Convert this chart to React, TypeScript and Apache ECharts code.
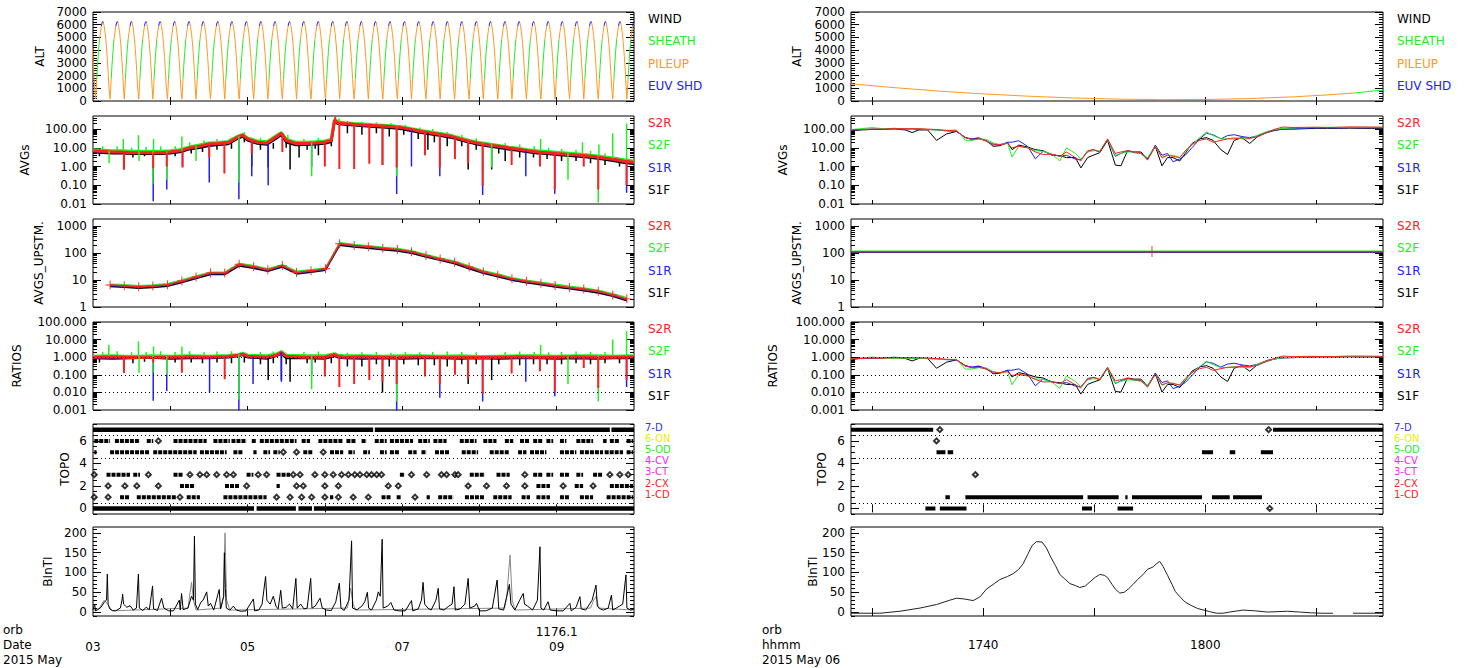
import React, { useEffect, useRef } from "react";
import * as echarts from "echarts";

const FONT = "'DejaVu Sans', sans-serif";

// ---------------- layout (pixels) ----------------
const ROW_TOP = [12, 116, 219, 322, 424, 527];
const ROW_H = [89, 88, 88, 88, 90, 89];
const PANEL_L = { left: 93, width: 541 };
const PANEL_R = { left: 851, width: 532 };

// ---------------- colours ----------------
const C_RED = "#ff2020";
const C_GREEN = "#22ee22";
const C_BLUE = "#2020ff";
const C_BLACK = "#000000";
const C_ORANGE = "#ff9922";

// ---------------- x axes ----------------
// left: hours since 2015-05-03 00:00 UT ; right: minutes of day 2015-05-06
const LEFT_X_MIN = 0;
const LEFT_X_MAX = 168;
const LEFT_TICKS = [24, 48, 72, 96, 120, 144];
const LEFT_LABEL_HOURS = [0, 48, 96, 144];
const LEFT_ORBIT_LABELS: [number, string][] = [[144, "1176.1"]];
const RIGHT_X_MIN = 1048.1;
const RIGHT_X_MAX = 1096;
const RIGHT_TICKS = [1050, 1060, 1070, 1080, 1090];
const RIGHT_LABEL_MIN = [1060, 1080];

// ---------------- ALT (left): periapsis times and one orbit profile ----------------
const ALT_PERI_HOURS = [-3.66, 0.8, 5.3, 9.7, 14.2, 18.6, 23.1, 27.6, 32.0, 36.5, 40.9, 45.4, 49.9, 54.3, 58.8, 63.2, 67.7, 72.2, 76.6, 81.1, 85.5, 90.0, 94.5, 98.9, 103.4, 107.8, 112.3, 116.8, 121.2, 125.7, 130.1, 134.6, 139.1, 143.5, 148.0, 152.4, 156.9, 161.4, 165.8];
const ALT_ORBIT_T = [0, 0.15, 0.35, 0.6, 0.9, 1.2, 1.5, 1.8, 2.0, 2.23, 2.45, 2.7, 3.0, 3.3, 3.6, 3.9, 4.15];
const ALT_ORBIT_KM = [150, 700, 1700, 2800, 3900, 4800, 5400, 5900, 6150, 6250, 6150, 5850, 5300, 4500, 3500, 2300, 1100];
const ALT_ORBIT_REGION = ["P", "P", "P", "S", "S", "S", "P", "P", "E", "E", "E", "P", "P", "P", "P", "P", "P"];

// ALT (right)
const ALT_R_PILEUP = [[1048.1, 1350], [1052, 1050], [1056, 780], [1060, 560], [1064, 380], [1068, 240], [1072, 150], [1076, 110], [1080, 120], [1084, 190], [1088, 330], [1091, 480], [1093.5, 640]];
const ALT_R_SHEATH = [[1093.5, 640], [1096, 860]];

// ---------------- AVGs (left) ----------------
const AVG_L_HOURS = [0, 3, 6, 9, 12, 15, 18, 21, 24, 27, 30, 33, 36, 39, 42, 45, 46.5, 48, 51, 54, 57, 58.5, 60, 63, 66, 69, 72, 74, 75, 76, 78, 81, 84, 87, 90, 93, 96, 99, 102, 105, 108, 111, 114, 117, 120, 123, 126, 129, 132, 135, 138, 141, 144, 147, 150, 153, 156, 159, 162, 165, 168];
const AVG_L_S2R = [7, 6.5, 6, 6, 5.5, 5.5, 5.5, 5.5, 6, 7, 10, 12, 16, 17, 19, 38, 48, 30, 20, 18, 40, 60, 25, 17, 17, 18, 20, 25, 300, 220, 200, 180, 165, 155, 145, 135, 120, 95, 75, 62, 52, 42, 30, 22, 17, 14, 12, 10, 8.5, 7, 6, 5.5, 5, 4.6, 4.2, 3.8, 3.3, 2.8, 2.4, 1.9, 1.7];
const AVG_L_S2F = [8, 7.5, 7, 7, 6.5, 6.5, 6.5, 6.5, 7, 8, 11, 14, 18, 19, 22, 42, 52, 34, 23, 21, 45, 65, 29, 20, 20, 21, 23, 29, 320, 250, 220, 200, 185, 170, 160, 150, 130, 105, 85, 70, 58, 47, 34, 25, 19, 16, 13.5, 11, 9.5, 8, 7, 6.3, 5.8, 5.3, 4.8, 4.3, 3.8, 3.2, 2.8, 2.3, 2.0];
const AVG_L_S1R = [6.5, 6, 5.8, 5.8, 5.3, 5.3, 5.3, 5.3, 5.8, 6.7, 9.5, 11.5, 15, 16, 18, 36, 45, 28, 19, 17, 37, 55, 23, 16, 16, 17, 19, 24, 280, 210, 190, 172, 158, 148, 138, 128, 115, 90, 72, 60, 50, 40, 29, 21, 16, 13, 11.5, 9.5, 8, 6.7, 5.8, 5.3, 4.8, 4.4, 4.0, 3.6, 3.1, 2.7, 2.3, 1.8, 1.6];
const AVG_L_S1F = [6, 5.5, 5.2, 5.2, 4.8, 4.8, 4.8, 4.8, 5.2, 6, 8.5, 10, 13, 14.5, 16, 32, 40, 25, 17, 15, 33, 50, 20, 14, 14.5, 15.5, 17, 21, 260, 190, 175, 160, 145, 135, 125, 115, 100, 80, 64, 53, 44, 36, 26, 19, 14.5, 12, 10, 8.5, 7.2, 6, 5.2, 4.8, 4.3, 3.9, 3.5, 3.2, 2.8, 2.4, 2.0, 1.6, 1.4];
// spikes: [hour, from, to]
const AVG_L_SPK_S2R = [[9.6, 6, 0.7], [18.7, 5.5, 0.8], [22.9, 5.5, 1.0], [27.8, 6.5, 0.9], [36.1, 16, 3], [40.8, 18, 0.42], [49.3, 25, 5], [58.8, 55, 6], [72.0, 20, 1.0], [75.2, 300, 450], [76.5, 230, 0.75], [81.1, 185, 0.75], [85.8, 165, 1.4], [89.9, 145, 1.2], [94.3, 135, 0.9], [103.1, 75, 4], [107.7, 55, 0.9], [112.4, 40, 2.5], [116.5, 25, 1.5], [121.0, 17, 0.093], [130.0, 10, 1.2], [138.8, 6.3, 1.0], [143.4, 5.5, 0.06], [152.4, 4.2, 1.0], [156.9, 3.4, 0.06], [165.7, 2.0, 0.1]];
const AVG_L_SPK_S2F = [[5.0, 7, 1.5], [9.4, 7, 30], [14.1, 6.5, 47], [14.3, 6.5, 2], [18.6, 6.5, 0.12], [18.8, 6.5, 30], [22.9, 6.5, 0.2], [27.6, 7, 40], [32.0, 13, 2], [45.3, 42, 0.14], [67.9, 20, 0.3], [76.4, 260, 380], [94.3, 150, 0.3], [121.0, 19, 0.6], [123.8, 16, 0.9], [139.0, 7, 30], [147.5, 5.3, 0.2], [152.0, 4.8, 20], [156.9, 3.8, 0.012], [157.1, 3.8, 15], [161.4, 2.8, 60], [165.7, 2.3, 200]];
const AVG_L_SPK_S1R = [[18.7, 5.3, 0.014], [22.9, 5.3, 0.06], [27.8, 6, 1.0], [36.1, 15, 0.14], [45.3, 36, 0.018], [49.3, 22, 0.3], [54.4, 17, 0.1], [67.9, 17, 1.0], [94.3, 128, 0.034], [98.9, 90, 1.0], [107.7, 52, 0.3], [121.0, 16, 0.03], [134.4, 7, 0.3], [143.4, 5, 0.035], [165.7, 1.8, 0.04]];
const AVG_L_SPK_S1F = [[9.6, 5, 0.7], [49.3, 18, 1.0], [54.4, 15, 0.9], [61.2, 15, 0.7], [64.0, 14, 3], [70.0, 15, 4], [89.9, 125, 1.2], [104.0, 62, 8], [116.5, 20, 0.7], [123.8, 12, 0.7], [128.0, 9, 2]];
// short fluctuations that make the band ragged
const AVG_L_WIG_S1F = [[2, 6, 3.5], [12.4, 5.5, 3], [16, 5.5, 3.5], [25.5, 6, 3.5], [30.5, 10, 5], [34, 12, 6], [38.5, 16, 8], [43, 19, 9], [47, 45, 20], [52, 20, 8], [56, 18, 9], [60, 25, 10], [66.5, 17, 8], [69, 18, 9], [74, 24, 12], [79, 200, 60], [83.5, 170, 50], [88, 150, 60], [92, 140, 40], [96.5, 120, 50], [101, 80, 30], [106, 58, 20], [110, 45, 12], [114.5, 30, 12], [119, 20, 8], [126, 12, 5], [132.5, 8.5, 3], [136.8, 7, 3], [141, 6, 2.5], [145.5, 5, 2], [150, 4.2, 2], [154.5, 3.6, 1.5], [159, 2.8, 1.2], [163.5, 2.2, 1]];
const AVG_L_WIG_S2F = [[3, 7, 12], [7.5, 7, 12], [12, 6.5, 10], [16.5, 6.5, 11], [21, 6.5, 12], [25.5, 7, 12], [30, 11, 20], [34.5, 14, 25], [38.5, 19, 30], [43, 22, 35], [47, 50, 70], [52, 23, 35], [56, 21, 35], [60.5, 29, 50], [65.5, 20, 30], [70, 22, 35], [79, 210, 280], [83.5, 190, 250], [88, 170, 230], [92.5, 155, 210], [97, 128, 170], [101.5, 90, 120], [105.5, 75, 100], [110, 50, 70], [114.5, 34, 50], [119, 22, 32], [128, 11, 18], [132.5, 9.5, 15], [137, 7.5, 12], [141.5, 6.3, 10], [145.5, 5.5, 9], [150, 4.8, 8], [154.5, 4.3, 7], [159, 3.2, 5]];

// ---------------- AVGS_UPSTM (left) ----------------
const UP_L_HOURS = [5.3, 9.7, 14.2, 18.6, 23.1, 27.6, 32.0, 36.5, 40.9, 45.4, 49.9, 54.3, 58.8, 63.2, 67.7, 72.2, 76.6, 81.1, 85.5, 90.0, 94.5, 98.9, 103.4, 107.8, 112.3, 116.8, 121.2, 125.7, 130.1, 134.6, 139.1, 143.5, 148.0, 152.4, 156.9, 161.4, 165.8];
const UP_L_S2R = [6.5, 6.1, 5.6, 6.0, 6.6, 9.2, 12.8, 18, 18, 38, 31, 24, 34, 19, 22, 26, 220, 190, 170, 150, 135, 110, 80, 60, 45, 30, 20, 15, 11, 9, 7.5, 6.3, 5.3, 4.6, 3.8, 2.8, 2.0];
const UP_L_S2F = [7.0, 6.6, 6.1, 6.5, 7.2, 10, 14, 19.5, 19.5, 41, 34, 26, 37, 21, 24, 28, 240, 205, 185, 162, 146, 120, 87, 65, 49, 33, 22, 16.5, 12, 9.8, 8.2, 6.9, 5.8, 5.0, 4.2, 3.1, 2.2];
const UP_L_S1R = [6.3, 5.9, 5.4, 5.8, 6.4, 8.9, 12.4, 17.5, 17.5, 37, 30, 23, 33, 18.4, 21, 25, 213, 184, 165, 145, 131, 107, 78, 58, 44, 29, 19.4, 14.6, 10.7, 8.7, 7.3, 6.1, 5.1, 4.5, 3.7, 2.7, 1.9];
const UP_L_S1F = [5.7, 5.4, 4.9, 5.3, 5.8, 8.1, 11.3, 15.8, 15.8, 33, 27, 21, 30, 16.7, 19.4, 23, 194, 167, 150, 132, 119, 97, 70, 53, 40, 26, 17.6, 13.2, 9.7, 7.9, 6.6, 5.5, 4.7, 4.0, 3.3, 2.5, 1.7];

// ---------------- RATIOS (left) ----------------
const RAT_L_HOURS = [0, 6, 12, 18, 24, 30, 36, 42, 45, 46.5, 48, 54, 57, 58.5, 60, 66, 72, 75, 76, 78, 84, 90, 96, 102, 108, 114, 120, 126, 132, 138, 144, 150, 156, 162, 168];
const RAT_L_S2R = [1.0, 1.05, 0.95, 1.0, 1.0, 1.05, 1.0, 1.1, 1.3, 1.5, 1.15, 1.0, 1.3, 1.8, 1.15, 1.0, 1.0, 1.4, 1.15, 1.0, 1.05, 1.0, 1.0, 1.05, 1.0, 1.0, 0.95, 1.0, 1.05, 1.0, 1.0, 1.05, 1.0, 1.0, 1.05];
const RAT_L_S2F = [1.15, 1.2, 1.1, 1.2, 1.15, 1.2, 1.15, 1.25, 1.4, 1.7, 1.3, 1.2, 1.5, 2.1, 1.3, 1.2, 1.2, 1.6, 1.3, 1.2, 1.2, 1.15, 1.2, 1.2, 1.15, 1.2, 1.1, 1.15, 1.2, 1.2, 1.15, 1.2, 1.2, 1.15, 1.2];
const RAT_L_S1R = [0.95, 1.0, 0.95, 0.95, 1.0, 1.0, 0.95, 1.05, 1.2, 1.45, 1.1, 0.95, 1.25, 1.7, 1.1, 0.95, 1.0, 1.35, 1.1, 0.95, 1.0, 0.95, 1.0, 1.0, 0.95, 1.0, 0.9, 0.95, 1.0, 0.95, 1.0, 1.0, 0.95, 1.0, 1.0];
const RAT_L_S1F = [0.9, 0.85, 0.9, 0.95, 0.85, 0.9, 0.9, 1.0, 1.15, 1.35, 1.0, 0.85, 1.2, 1.6, 0.9, 0.9, 0.85, 1.2, 1.0, 0.9, 0.85, 0.9, 0.85, 0.9, 0.9, 0.85, 0.9, 0.85, 0.9, 0.9, 0.85, 0.9, 0.85, 0.9, 0.9];
const RAT_L_SPK_S2R = [[9.6, 1.0, 0.13], [18.7, 1.0, 0.5], [27.6, 1.0, 0.13], [40.9, 1.1, 0.056], [72.0, 1.0, 0.08], [76.5, 1.3, 0.02], [81.1, 1.0, 0.03], [85.8, 1.0, 0.05], [89.9, 1.0, 0.04], [94.3, 1.0, 0.03], [103.1, 1.0, 0.08], [107.7, 1.0, 0.03], [112.4, 1.0, 0.1], [116.5, 1.0, 0.06], [121.0, 1.0, 0.008], [130.0, 1.0, 0.12], [138.8, 1.0, 0.16], [143.4, 1.0, 0.011], [152.4, 1.0, 0.24], [156.9, 1.0, 0.018], [165.7, 1.0, 0.05]];
const RAT_L_SPK_S2F = [[4.9, 1.2, 5], [14.1, 1.2, 8], [14.3, 1.2, 0.13], [18.6, 1.2, 0.13], [18.8, 1.2, 4], [22.9, 1.2, 0.1], [27.6, 1.2, 4], [45.3, 1.6, 0.004], [67.9, 1.2, 0.015], [94.3, 1.2, 0.003], [139.0, 1.2, 5], [147.5, 1.2, 0.03], [156.9, 1.2, 0.003], [161.4, 1.2, 10], [165.7, 1.2, 30]];
const RAT_L_SPK_S1R = [[18.7, 1.0, 0.0034], [22.9, 1.0, 0.012], [36.2, 1.0, 0.01], [45.3, 1.4, 0.0009], [49.7, 1.0, 0.03], [58.5, 1.9, 0.04], [67.9, 1.0, 0.1], [94.3, 1.0, 0.0005], [107.7, 1.0, 0.005], [121.0, 1.0, 0.003], [134.4, 1.0, 0.04], [143.4, 1.0, 0.006], [165.7, 1.0, 0.02]];
const RAT_L_SPK_S1F = [[9.6, 0.9, 0.13], [54.4, 0.9, 0.05], [58.5, 1.8, 0.05], [61.2, 0.9, 0.04], [72.0, 0.9, 0.2], [89.9, 0.9, 0.01], [116.5, 0.9, 0.03], [123.8, 0.9, 0.05]];
const RAT_L_WIG_S1F = [[2, 0.9, 0.5], [12.4, 0.9, 0.45], [16, 0.9, 0.55], [25.5, 0.9, 0.5], [30.5, 0.9, 0.5], [34, 0.9, 0.45], [38.5, 0.9, 0.5], [43, 1.0, 0.45], [47, 1.2, 0.5], [52, 0.9, 0.4], [56, 0.9, 0.45], [60, 1.0, 0.4], [66.5, 0.9, 0.45], [69, 0.9, 0.5], [74, 0.9, 0.45], [79, 0.9, 0.3], [83.5, 0.9, 0.3], [88, 0.9, 0.4], [92, 0.9, 0.3], [96.5, 0.9, 0.4], [101, 0.9, 0.35], [106, 0.9, 0.35], [110, 0.9, 0.3], [114.5, 0.9, 0.4], [119, 0.9, 0.4], [126, 0.9, 0.4], [132.5, 0.9, 0.35], [136.8, 0.9, 0.4], [141, 0.9, 0.4], [145.5, 0.9, 0.4], [150, 0.9, 0.45], [154.5, 0.9, 0.4], [159, 0.9, 0.45], [163.5, 0.9, 0.45]];
const RAT_L_WIG_S2F = [[3, 1.2, 2], [7.5, 1.2, 2.2], [12, 1.2, 1.9], [16.5, 1.2, 2], [21, 1.2, 2.2], [25.5, 1.2, 2], [30, 1.2, 2.2], [34.5, 1.2, 2], [38.5, 1.2, 2.1], [43, 1.25, 2.2], [52, 1.2, 2], [56, 1.2, 2.1], [65.5, 1.2, 2], [70, 1.2, 2.1], [79, 1.2, 1.8], [83.5, 1.2, 1.9], [88, 1.2, 2], [92.5, 1.2, 1.8], [97, 1.2, 2], [101.5, 1.2, 1.9], [105.5, 1.2, 2], [110, 1.2, 2.1], [114.5, 1.2, 2], [119, 1.2, 1.9], [128, 1.2, 2], [132.5, 1.2, 2.1], [137, 1.2, 2], [141.5, 1.2, 1.9], [145.5, 1.2, 2], [150, 1.2, 2.1], [154.5, 1.2, 2], [159, 1.2, 2]];

// ---------------- TOPO (left): [start,end] runs of points per level, and isolated points ----------------
const TOPO_L_SEG: Record<number, number[][]> = {
  0: [[0, 50.0], [50.8, 63.0], [63.8, 68.0], [68.6, 168]],
  1: [[8.4, 11.5], [13.6, 26.0], [29.1, 33.2], [40.5, 53.9], [73.6, 74.6], [89.6, 92.7], [94.3, 95.8], [103.6, 104.6], [107.2, 111.9], [115.5, 121.7], [124.3, 130.0], [133.1, 135.7], [137.7, 141.9], [145.0, 148.1], [151.2, 155.3], [159.5, 167.7]],
  2: [[27.0, 31.7], [41.0, 45.6], [57.0, 58.0], [137.7, 141.9], [149.6, 152.2], [160.5, 167.7]],
  3: [[4.2, 11.5], [12.5, 14.6], [25.0, 28.0], [47.7, 49.8], [57.0, 61.2], [95.3, 96.9], [117.0, 121.7], [125.3, 129.4], [136.7, 139.8], [140.8, 142.9], [145.0, 148.1], [150.1, 152.2], [155.3, 158.4]],
  5: [[0.4, 1.1], [5.3, 17.7], [18.7, 32.2], [33.2, 41.5], [43.6, 46.7], [49.8, 50.8], [52.9, 55.0], [56.0, 58.0], [65.3, 68.4], [73.6, 77.7], [79.3, 81.3], [83.9, 86.0], [89.1, 91.2], [92.2, 95.3], [97.9, 100.5], [102.0, 103.6], [106.2, 110.8], [114.5, 119.6], [123.2, 129.4], [132.0, 134.6], [135.7, 140.8], [145.0, 150.1], [151.2, 158.4], [158.9, 164.6], [165.7, 167.7]],
  6: [[0.4, 5.3], [6.8, 14.6], [16.7, 18.7], [25.0, 35.3], [37.4, 42.5], [43.0, 47.7], [49.3, 50.8], [51.8, 63.2], [64.8, 67.4], [70.0, 77.7], [78.7, 81.8], [83.4, 85.0], [87.5, 91.2], [92.2, 99.4], [101.0, 104.6], [105.7, 109.8], [113.9, 119.1], [121.2, 125.3], [127.9, 130.5], [132.6, 135.7], [136.7, 139.8], [140.8, 142.9], [145.0, 147.0], [150.1, 155.3], [158.4, 159.5], [160.5, 163.6], [165.7, 167.7]],
  7: [[0, 87.0], [87.5, 160.5], [161.0, 168]],
};
const TOPO_L_PTS: Record<number, number[]> = {
  1: [0.4, 4.7, 27.0, 57.0, 61.2, 64.8, 67.9, 72.0, 76.2, 80.8, 85.5, 100.0],
  2: [4.7, 9.9, 13.6, 20.3, 47.7, 63.2, 65.3, 72.0, 76.2, 91.7, 94.8, 116.5, 122.2, 128.4, 134.1, 146.0, 155.3],
  3: [0.4, 17.2, 30.1, 33.2, 35.3, 38.4, 41.5, 43.6, 51.3, 53.9, 62.2, 64.3, 68.9, 72.0, 74.6, 77.2, 79.3, 81.3, 82.9, 85.0, 86.5, 88.1, 89.6, 98.9, 103.6, 108.2, 109.8, 112.4, 113.4, 134.1, 160.5, 163.6, 166.2],
  5: [59.1, 63.2, 71.5],
  6: [20.3],
};

// ---------------- BInTI (left) ----------------
const BINT_L_BLACK = [[0, 5], [0.5, 20], [0.8, 3], [1.5, 6], [2.5, 12], [3.5, 25], [4.2, 30], [4.45, 96], [4.7, 20], [5.2, 8], [6, 4], [7, 3], [8.5, 10], [9.0, 30], [9.2, 45], [9.5, 20], [10.5, 12], [11.5, 16], [12.5, 5], [13.5, 10], [14.1, 96], [14.4, 10], [15.5, 4], [16.5, 12], [17.5, 6], [18.5, 66], [18.8, 8], [20, 4], [21.3, 35], [22, 10], [23.5, 3], [25, 3], [26.8, 30], [27.1, 5], [27.5, 47], [28, 6], [29.5, 10], [30.6, 40], [31.2, 30], [31.5, 192], [31.8, 20], [32.5, 6], [33.5, 25], [34.2, 30], [35.3, 51], [35.8, 15], [36.5, 22], [37.5, 5], [39.2, 57], [39.6, 8], [40.6, 40], [40.8, 150], [41.1, 60], [41.4, 10], [42.5, 5], [43.6, 15], [44.5, 5], [46, 2], [47.5, 3], [49.8, 33], [50.2, 3], [51.5, 5], [52.5, 20], [53.6, 90], [54, 30], [55, 20], [56, 40], [56.8, 15], [57.5, 8], [58.3, 55], [58.8, 10], [60, 12], [61, 20], [62, 8], [63.0, 85], [63.4, 10], [64.5, 20], [65.5, 8], [66.5, 10], [67.6, 85], [68, 10], [69, 15], [70.5, 35], [71.2, 10], [72.5, 5], [74, 4], [75.4, 26], [76.5, 73], [77, 10], [78, 4], [79.5, 30], [80.3, 180], [80.6, 10], [82, 6], [83.5, 15], [84.4, 26], [85.2, 50], [85.6, 10], [86.5, 5], [88, 30], [88.6, 51], [89.2, 40], [89.8, 184], [90.1, 10], [91.5, 15], [92.5, 24], [93.5, 5], [95, 3], [97, 3], [98.9, 29], [99.3, 3], [101, 8], [102.0, 30], [102.5, 75], [103, 20], [104, 10], [105, 5], [106.5, 30], [107.2, 60], [107.6, 8], [109, 5], [110.5, 15], [111.5, 20], [112.1, 64], [112.5, 5], [114, 8], [115.5, 20], [116.5, 85], [117, 10], [118.5, 15], [119.1, 22], [120, 3], [122, 3], [124, 10], [125.5, 81], [126, 8], [127.5, 5], [128.5, 40], [129.3, 70], [129.8, 20], [131, 5], [132.5, 30], [133.6, 47], [134, 20], [135, 15], [136.5, 5], [138.0, 30], [138.8, 165], [139.1, 10], [140, 5], [141.3, 26], [142, 5], [144, 3], [146, 3], [148.1, 22], [148.5, 3], [150, 12], [151.2, 39], [151.6, 8], [153, 5], [155, 30], [156.2, 68], [156.6, 15], [157.5, 8], [158.5, 5], [160, 10], [161.0, 43], [161.4, 5], [162.5, 10], [163.5, 15], [164.5, 20], [165.5, 94], [165.8, 10], [167, 5], [168, 8]];
const BINT_L_GREY = [[0, 3], [2, 10], [3.5, 30], [4.5, 20], [6, 3], [29.5, 10], [30.6, 75], [31.2, 30], [32, 5], [39.8, 10], [40.5, 40], [41, 200], [41.5, 30], [42.5, 5], [79, 10], [80, 60], [80.8, 20], [81.5, 5], [127.8, 10], [128.5, 40], [129.5, 144], [130.2, 30], [131, 5], [154.5, 10], [155.5, 30], [156.3, 40], [157, 10], [168, 5]];

// ---------------- AVGs (right) ----------------
const AVG_R_MIN = [1048.1, 1049, 1050, 1051, 1052, 1053, 1053.6, 1054.2, 1055, 1055.8, 1056.7, 1057.6, 1058.4, 1059.0, 1059.6, 1060.3, 1060.9, 1061.5, 1062.2, 1062.6, 1063.2, 1064.0, 1064.7, 1065.4, 1066.2, 1066.9, 1067.5, 1068.3, 1068.8, 1069.4, 1069.9, 1070.5, 1071.2, 1071.9, 1072.4, 1073.0, 1073.6, 1074.2, 1074.8, 1075.5, 1076.1, 1076.6, 1077.1, 1077.7, 1078.2, 1078.8, 1079.5, 1080.1, 1080.7, 1081.4, 1082.0, 1082.6, 1083.3, 1084.0, 1084.8, 1085.6, 1086.3, 1087.0, 1088, 1089, 1090, 1091, 1092, 1093, 1094, 1095, 1096];
const AVG_R_S2R = [90, 95, 100, 100, 105, 105, 105, 105, 100, 95, 85, 80, 35, 28, 30, 24, 14, 15, 17, 10, 12, 10, 6, 4.4, 4.5, 3.5, 6, 3, 2, 7, 8, 6, 30, 5, 6, 7, 6, 5.5, 2.2, 12, 3, 4, 3.5, 3, 7, 15, 25, 30, 20, 25, 30, 30, 35, 32, 40, 70, 100, 130, 120, 125, 125, 120, 125, 130, 130, 128, 125];
const AVG_R_S2F = [95, 105, 120, 105, 100, 105, 100, 105, 95, 90, 85, 90, 25, 25, 30, 28, 18, 15, 18, 3.2, 12, 10, 7, 6.5, 4.5, 2.0, 10, 5, 2.5, 6, 7, 7, 28, 4, 5, 6, 6, 5, 3, 12, 3, 4, 4, 3, 6, 15, 35, 70, 45, 30, 30, 35, 30, 30, 50, 75, 95, 110, 115, 120, 125, 125, 125, 125, 125, 125, 125];
const AVG_R_S1R = [85, 95, 100, 100, 110, 100, 100, 95, 95, 90, 80, 75, 35, 30, 35, 22, 16, 14, 20, 20, 24, 12, 2.6, 6.5, 4.5, 3.6, 4, 2.5, 2.4, 6, 8, 6, 28, 3.5, 5, 7, 5.5, 5, 2.5, 14, 4, 5, 1.8, 2.5, 4, 10, 30, 60, 50, 30, 45, 50, 40, 35, 45, 65, 90, 100, 105, 110, 115, 120, 115, 120, 115, 120, 118];
const AVG_R_S1F = [80, 90, 95, 95, 100, 90, 65, 90, 90, 25, 55, 75, 35, 28, 32, 24, 12, 13, 19, 8, 14, 11, 8, 7, 4, 3.8, 3, 3, 0.85, 3, 4, 5.5, 25, 1.2, 1.1, 7, 6, 6, 2.5, 12, 1.1, 3, 3, 2, 5, 17, 30, 35, 25, 8, 4.4, 25, 35, 17, 45, 70, 85, 100, 100, 105, 110, 110, 110, 112, 110, 110, 110];

// AVGS_UPSTM (right): flat levels per channel, plus the single '+' marker time
const UP_R = { S2R: 112, S2F: 118, S1R: 110, S1F: 106 };
const UP_R_MARK_MIN = 1075.2;

// TOPO (right)
const TOPO_R_SEG: Record<number, number[][]> = {
  0: [[1054.8, 1055.7], [1056.1, 1058.5], [1068.9, 1069.8], [1072.1, 1073.5]],
  1: [[1056.6, 1057.0], [1058.4, 1069.0], [1069.4, 1072.2], [1072.8, 1073.0], [1073.4, 1079.7], [1080.6, 1082.2], [1082.5, 1085.1]],
  5: [[1055.8, 1056.6], [1056.8, 1057.3], [1079.7, 1080.7], [1082.2, 1082.7], [1085.0, 1086.1]],
  7: [[1048.1, 1055.5], [1086.1, 1096]],
};
const TOPO_R_PTS: Record<number, number[]> = {
  0: [1085.8],
  3: [1059.3],
  6: [1055.8],
  7: [1056.1, 1085.7],
};

// BInTI (right)
const BINT_R = [[1048.1, -3], [1050.7, -3], [1052.5, 2], [1054.3, 10], [1055.8, 19], [1057.0, 30], [1057.6, 35], [1058.3, 33], [1059.1, 29], [1059.7, 38], [1060.3, 58], [1061.0, 72], [1061.5, 82], [1062.2, 90], [1062.7, 97], [1063.2, 108], [1063.6, 122], [1064.0, 145], [1064.4, 168], [1064.8, 178], [1065.3, 177], [1065.7, 162], [1066.1, 138], [1066.5, 118], [1066.9, 95], [1067.3, 85], [1067.8, 72], [1068.3, 67], [1068.7, 62], [1069.2, 66], [1069.6, 76], [1070.1, 88], [1070.5, 95], [1070.9, 93], [1071.2, 87], [1071.6, 70], [1071.9, 58], [1072.3, 48], [1072.7, 50], [1073.1, 59], [1073.5, 70], [1073.9, 82], [1074.4, 95], [1074.8, 108], [1075.3, 114], [1075.6, 122], [1075.9, 128], [1076.2, 115], [1076.6, 93], [1077.0, 70], [1077.3, 52], [1077.8, 36], [1078.2, 25], [1078.7, 17], [1079.3, 9], [1080.0, 4], [1080.4, 1], [1081.0, -3], [1081.6, -3], [1082.2, 0], [1083.4, 5], [1084.5, 3], [1085.6, 0], [1087.4, 2], [1088.5, 0], [1089.5, -2], [1090.5, -3], [1091.5, -3], [1092.4, "-"], [1093.3, -3], [1096, -3]];

// reference dotted lines
const RATIO_REFS = [1, 0.1, 0.01];
const TOPO_REFS = [6.5, 4.5, 0.5];

// texts
const ROW_NAMES = ["ALT", "AVGs", "AVGS_UPSTM.", "RATIOS", "TOPO", "BInTI"];
const NAME_X_LEFT = [40, 25, 39, 17, 65, 48];
const NAME_X_RIGHT = [797, 783, 797, 773, 822, 813];
const ALT_LEGEND: [string, string][] = [["WIND", "#000000"], ["SHEATH", C_GREEN], ["PILEUP", C_ORANGE], ["EUV SHD", C_BLUE]];
const CH_LEGEND: [string, string][] = [["S2R", C_RED], ["S2F", C_GREEN], ["S1R", C_BLUE], ["S1F", "#000000"]];
const TOPO_LEGEND: [string, string][] = [["7-D", "#3030ff"], ["6-ON", "#eeee00"], ["5-OD", "#22ee22"], ["4-CV", "#ff22ff"], ["3-CT", "#ff22ff"], ["2-CX", "#ff2020"], ["1-CD", "#ff2020"]];
const LEFT_FOOT = ["orb", "Date", "2015 May"];
const RIGHT_FOOT = ["orb", "hhmm", "2015 May 06"];

const PLUS_SYMBOL = "path://M-0.6,-6H0.6V-0.6H6V0.6H0.6V6H-0.6V0.6H-6V-0.6H-0.6Z";

// ---------------- helpers ----------------
function zip(xs: number[], ys: number[]) {
  return xs.map((x, i) => [x, ys[i]]);
}
function spikes(arr: number[][]) {
  const out: any[] = [];
  arr.forEach(([h, a, b]) => {
    out.push([h, a], [h, b], [h, "-"]);
  });
  return out;
}
function segs(arr: number[][], lvl: number) {
  const out: any[] = [];
  arr.forEach(([s, e]) => {
    out.push([s, lvl], [e, lvl], [e, "-"]);
  });
  return out;
}
function altLeftSeries() {
  const pts: any[] = [];
  ALT_PERI_HOURS.forEach((p) => {
    ALT_ORBIT_T.forEach((t, i) => pts.push([p + t, ALT_ORBIT_KM[i], ALT_ORBIT_REGION[i]]));
  });
  const out: Record<string, any[]> = { P: [], S: [], E: [] };
  let prev = "";
  for (let i = 1; i < pts.length; i++) {
    const reg = pts[i][2];
    const s = out[reg];
    if (reg !== prev) {
      if (s.length) s.push([pts[i - 1][0], "-"]);
      s.push([pts[i - 1][0], pts[i - 1][1]]);
    }
    s.push([pts[i][0], pts[i][1]]);
    prev = reg;
  }
  return out;
}
function logMinors(lo: number, hi: number) {
  const out: number[] = [];
  for (let d = Math.floor(Math.log10(lo)) - 1; d <= Math.ceil(Math.log10(hi)); d++) {
    for (let k = 2; k <= 9; k++) {
      const v = parseFloat((k * Math.pow(10, d)).toPrecision(3));
      if (v > lo && v < hi) out.push(v);
    }
  }
  return out;
}
function linMinors(lo: number, hi: number, step: number, major: number) {
  const out: number[] = [];
  const n = Math.round((hi - lo) / step);
  for (let i = 0; i <= n; i++) {
    const v = parseFloat((lo + i * step).toFixed(4));
    if (Math.abs(v / major - Math.round(v / major)) > 1e-6) out.push(v);
  }
  return out;
}

type RowAxis = { type: string; min: number; max: number; majors: number[]; minors: number[]; fmt: (v: number) => string };
const ROW_AXES: RowAxis[] = [
  { type: "value", min: 0, max: 7000, majors: [0, 1000, 2000, 3000, 4000, 5000, 6000, 7000], minors: linMinors(0, 7000, 200, 1000), fmt: (v) => String(Math.round(v)) },
  { type: "log", min: 0.01, max: 500, majors: [0.01, 0.1, 1, 10, 100], minors: logMinors(0.01, 500), fmt: (v) => v.toFixed(2) },
  { type: "log", min: 1, max: 1800, majors: [1, 10, 100, 1000], minors: logMinors(1, 1800), fmt: (v) => String(Math.round(v)) },
  { type: "log", min: 0.001, max: 100, majors: [0.001, 0.01, 0.1, 1, 10, 100], minors: logMinors(0.001, 100), fmt: (v) => v.toFixed(3) },
  { type: "value", min: -0.5, max: 7.5, majors: [0, 2, 4, 6], minors: linMinors(-0.5, 7.5, 0.5, 2), fmt: (v) => String(Math.round(v)) },
  { type: "value", min: -10, max: 215, majors: [0, 50, 100, 150, 200], minors: linMinors(-10, 210, 10, 50), fmt: (v) => String(Math.round(v)) },
];

function buildOption() {
  const grids: any[] = [];
  const xAxes: any[] = [];
  const yAxes: any[] = [];
  const series: any[] = [];
  const graphic: any[] = [];
  const tickStyle = { color: "#000", width: 1 };
  const labelBase = { color: "#000", fontFamily: FONT, fontSize: 12 };

  for (let side = 0; side < 2; side++) {
    const panel = side === 0 ? PANEL_L : PANEL_R;
    for (let r = 0; r < 6; r++) {
      const g = side * 6 + r;
      grids.push({ left: panel.left, width: panel.width, top: ROW_TOP[r], height: ROW_H[r], show: true, borderColor: "#000", borderWidth: 1, backgroundColor: "#fff" });
      const xmin = side === 0 ? LEFT_X_MIN : RIGHT_X_MIN;
      const xmax = side === 0 ? LEFT_X_MAX : RIGHT_X_MAX;
      const ticks = side === 0 ? LEFT_TICKS : RIGHT_TICKS;
      const xBase = { type: "value", gridIndex: g, min: xmin, max: xmax, axisLine: { show: false }, splitLine: { show: false }, axisTick: { show: true, inside: true, length: 4, customValues: ticks, lineStyle: tickStyle } };
      let xLabel: any = { show: false };
      if (r === 5) {
        xLabel = side === 0
          ? {
              show: true, ...labelBase, fontSize: 12, lineHeight: 15, margin: 8, customValues: LEFT_LABEL_HOURS,
              formatter: (v: number) => {
                const o = LEFT_ORBIT_LABELS.find((e) => Math.abs(e[0] - v) < 1e-6);
                const day = String(3 + Math.round(v / 24)).padStart(2, "0");
                return (o ? o[1] : "") + "\n" + day;
              },
            }
          : {
              show: true, ...labelBase, fontSize: 12, lineHeight: 15, margin: 6, customValues: RIGHT_LABEL_MIN,
              formatter: (v: number) => "\n" + String(Math.floor(v / 60)).padStart(2, "0") + String(Math.round(v % 60)).padStart(2, "0"),
            };
      }
      xAxes.push({ ...xBase, position: "bottom", axisLabel: xLabel });
      xAxes.push({ ...xBase, position: "top", axisLabel: { show: false } });

      const ax = ROW_AXES[r];
      const yBase: any = { type: ax.type, gridIndex: g, min: ax.min, max: ax.max, axisLine: { show: false }, splitLine: { show: false } };
      if (ax.type === "log") yBase.logBase = 10;
      yAxes.push({ ...yBase, position: "left", axisTick: { show: true, inside: true, length: 8, customValues: ax.majors, lineStyle: tickStyle }, axisLabel: { show: true, ...labelBase, margin: 6, customValues: ax.majors, formatter: ax.fmt } });
      yAxes.push({ ...yBase, position: "left", axisTick: { show: true, inside: true, length: 4, customValues: ax.minors, lineStyle: tickStyle }, axisLabel: { show: false } });
      yAxes.push({ ...yBase, position: "right", axisTick: { show: true, inside: true, length: 8, customValues: ax.majors, lineStyle: tickStyle }, axisLabel: { show: false } });
      yAxes.push({ ...yBase, position: "right", axisTick: { show: true, inside: true, length: 4, customValues: ax.minors, lineStyle: tickStyle }, axisLabel: { show: false } });

      // axis name
      const nx = side === 0 ? NAME_X_LEFT[r] : NAME_X_RIGHT[r];
      graphic.push({ type: "text", x: nx, y: ROW_TOP[r] + ROW_H[r] / 2, rotation: Math.PI / 2, silent: true, style: { text: ROW_NAMES[r], fill: "#000", font: `12px ${FONT}`, textAlign: "center", textVerticalAlign: "middle", align: "center", verticalAlign: "middle" } });

      // legends
      const lx = panel.left + panel.width + 14;
      if (r === 4) {
        TOPO_LEGEND.forEach(([t, c], i) => graphic.push({ type: "text", x: lx - 3, y: ROW_TOP[r] + 3 + i * 11.2, silent: true, style: { text: t, fill: c, font: `10px ${FONT}`, textAlign: "left", textVerticalAlign: "middle", align: "left", verticalAlign: "middle" } }));
      } else if (r < 5) {
        const leg = r === 0 ? ALT_LEGEND : CH_LEGEND;
        leg.forEach(([t, c], i) => graphic.push({ type: "text", x: lx, y: ROW_TOP[r] + 7 + i * 22.3, silent: true, style: { text: t, fill: c, font: `12px ${FONT}`, textAlign: "left", textVerticalAlign: "middle", align: "left", verticalAlign: "middle" } }));
      }
    }
  }

  const L = (g: number, data: any[], color: string, width: number, z = 2, extra: any = {}) => ({
    type: "line", xAxisIndex: 2 * g, yAxisIndex: 4 * g, data, showSymbol: false, symbol: "none", silent: true, z,
    lineStyle: { color, width }, itemStyle: { color }, ...extra,
  });
  const dotted = (vals: number[]) => ({
    silent: true, symbol: ["none", "none"], label: { show: false },
    lineStyle: { type: [1, 3], color: "#000", width: 1 }, data: vals.map((v) => ({ yAxis: v })),
  });

  // ----- LEFT -----
  const alt = altLeftSeries();
  series.push(L(0, alt.P, C_ORANGE, 1));
  series.push(L(0, alt.S, C_GREEN, 1));
  series.push(L(0, alt.E, C_BLUE, 1));

  series.push(L(1, spikes(AVG_L_WIG_S1F), C_BLACK, 1.5, 2));
  series.push(L(1, spikes(AVG_L_WIG_S2F), C_GREEN, 1.5, 2));
  series.push(L(1, zip(AVG_L_HOURS, AVG_L_S1F), C_BLACK, 2.5));
  series.push(L(1, zip(AVG_L_HOURS, AVG_L_S1R), C_BLUE, 2));
  series.push(L(1, zip(AVG_L_HOURS, AVG_L_S2F), C_GREEN, 3));
  series.push(L(1, zip(AVG_L_HOURS, AVG_L_S2R), C_RED, 3));
  series.push(L(1, spikes(AVG_L_SPK_S1F), C_BLACK, 1.5, 3));
  series.push(L(1, spikes(AVG_L_SPK_S1R), C_BLUE, 1.5, 3));
  series.push(L(1, spikes(AVG_L_SPK_S2F), C_GREEN, 1.5, 3));
  series.push(L(1, spikes(AVG_L_SPK_S2R), C_RED, 2, 4));

  series.push(L(2, zip(UP_L_HOURS, UP_L_S1F), C_BLACK, 1.5));
  series.push(L(2, zip(UP_L_HOURS, UP_L_S1R), C_BLUE, 1.5));
  series.push(L(2, zip(UP_L_HOURS, UP_L_S2F), C_GREEN, 1.5));
  series.push(L(2, zip(UP_L_HOURS, UP_L_S2R), C_RED, 1.5, 3, { showSymbol: true, symbol: PLUS_SYMBOL, symbolSize: 9 }));

  series.push(L(3, zip(RAT_L_HOURS, RAT_L_S1F), C_BLACK, 2.5, 2, { markLine: dotted(RATIO_REFS) }));
  series.push(L(3, spikes(RAT_L_WIG_S1F), C_BLACK, 1.5, 2));
  series.push(L(3, spikes(RAT_L_WIG_S2F), C_GREEN, 1.5, 2));
  series.push(L(3, zip(RAT_L_HOURS, RAT_L_S1R), C_BLUE, 2));
  series.push(L(3, zip(RAT_L_HOURS, RAT_L_S2F), C_GREEN, 3));
  series.push(L(3, zip(RAT_L_HOURS, RAT_L_S2R), C_RED, 3));
  series.push(L(3, spikes(RAT_L_SPK_S1F), C_BLACK, 1.5, 3));
  series.push(L(3, spikes(RAT_L_SPK_S1R), C_BLUE, 1.5, 3));
  series.push(L(3, spikes(RAT_L_SPK_S2F), C_GREEN, 1.5, 3));
  series.push(L(3, spikes(RAT_L_SPK_S2R), C_RED, 2, 4));

  let first = true;
  Object.keys(TOPO_L_SEG).forEach((k) => {
    const lvl = Number(k);
    const solid = lvl === 0 || lvl === 7;
    series.push(L(4, segs(TOPO_L_SEG[lvl], lvl), C_BLACK, solid ? 4.5 : 4, 2, {
      lineStyle: { color: C_BLACK, width: solid ? 4.5 : 4, type: solid ? "solid" : [4, 1] },
      ...(first ? { markLine: dotted(TOPO_REFS) } : {}),
    }));
    first = false;
  });
  Object.keys(TOPO_L_PTS).forEach((k) => {
    const lvl = Number(k);
    series.push({ type: "scatter", xAxisIndex: 8, yAxisIndex: 16, silent: true, symbol: "emptyDiamond", symbolSize: 5, itemStyle: { color: C_BLACK, borderWidth: 1 }, data: TOPO_L_PTS[lvl].map((t) => [t, lvl]) });
  });

  series.push(L(5, BINT_L_GREY, "#888888", 1));
  series.push(L(5, BINT_L_BLACK, C_BLACK, 1, 3));

  // ----- RIGHT -----
  series.push(L(6, ALT_R_PILEUP, C_ORANGE, 1));
  series.push(L(6, ALT_R_SHEATH, C_GREEN, 1));

  series.push(L(7, zip(AVG_R_MIN, AVG_R_S1F), C_BLACK, 1));
  series.push(L(7, zip(AVG_R_MIN, AVG_R_S1R), C_BLUE, 1));
  series.push(L(7, zip(AVG_R_MIN, AVG_R_S2F), C_GREEN, 1));
  series.push(L(7, zip(AVG_R_MIN, AVG_R_S2R), C_RED, 1));

  series.push(L(8, [[RIGHT_X_MIN, UP_R.S1F], [RIGHT_X_MAX, UP_R.S1F]], C_BLACK, 1.2));
  series.push(L(8, [[RIGHT_X_MIN, UP_R.S1R], [RIGHT_X_MAX, UP_R.S1R]], C_BLUE, 1.2));
  series.push(L(8, [[RIGHT_X_MIN, UP_R.S2F], [RIGHT_X_MAX, UP_R.S2F]], C_GREEN, 1.2));
  series.push(L(8, [[RIGHT_X_MIN, UP_R.S2R], [RIGHT_X_MAX, UP_R.S2R]], C_RED, 1.2));
  series.push({ type: "scatter", xAxisIndex: 16, yAxisIndex: 32, silent: true, symbol: PLUS_SYMBOL, symbolSize: 11, itemStyle: { color: C_RED }, data: [[UP_R_MARK_MIN, UP_R.S2R]], z: 4 });

  const ratioR = (vals: number[], up: number) => AVG_R_MIN.map((m, i) => [m, vals[i] / up]);
  series.push(L(9, ratioR(AVG_R_S1F, UP_R.S1F), C_BLACK, 1, 2, { markLine: dotted(RATIO_REFS) }));
  series.push(L(9, ratioR(AVG_R_S1R, UP_R.S1R), C_BLUE, 1));
  series.push(L(9, ratioR(AVG_R_S2F, UP_R.S2F), C_GREEN, 1));
  series.push(L(9, ratioR(AVG_R_S2R, UP_R.S2R), C_RED, 1));

  first = true;
  Object.keys(TOPO_R_SEG).forEach((k) => {
    const lvl = Number(k);
    series.push(L(10, segs(TOPO_R_SEG[lvl], lvl), C_BLACK, 4, 2, first ? { markLine: dotted(TOPO_REFS) } : {}));
    first = false;
  });
  Object.keys(TOPO_R_PTS).forEach((k) => {
    const lvl = Number(k);
    series.push({ type: "scatter", xAxisIndex: 20, yAxisIndex: 40, silent: true, symbol: "emptyDiamond", symbolSize: 5, itemStyle: { color: C_BLACK, borderWidth: 1 }, data: TOPO_R_PTS[lvl].map((t) => [t, lvl]) });
  });

  series.push(L(11, BINT_R, "#222222", 1));

  // footer texts
  LEFT_FOOT.forEach((t, i) => graphic.push({ type: "text", x: 3, y: 630 + i * 15, silent: true, style: { text: t, fill: "#000", font: `12px ${FONT}`, textAlign: "left", textVerticalAlign: "middle", align: "left", verticalAlign: "middle" } }));
  RIGHT_FOOT.forEach((t, i) => graphic.push({ type: "text", x: 762, y: 630 + i * 15, silent: true, style: { text: t, fill: "#000", font: `12px ${FONT}`, textAlign: "left", textVerticalAlign: "middle", align: "left", verticalAlign: "middle" } }));

  return { animation: false, backgroundColor: "#ffffff", grid: grids, xAxis: xAxes, yAxis: yAxes, series, graphic };
}

export default function App() {
  const ref = useRef<HTMLDivElement>(null);
  useEffect(() => {
    if (!ref.current) return;
    const chart = echarts.init(ref.current, null, { renderer: "svg" });
    chart.setOption(buildOption() as any);
    return () => chart.dispose();
  }, []);
  return <div ref={ref} style={{ position: "absolute", left: 0, top: 0, width: 1470, height: 668, background: "#fff" }} />;
}
